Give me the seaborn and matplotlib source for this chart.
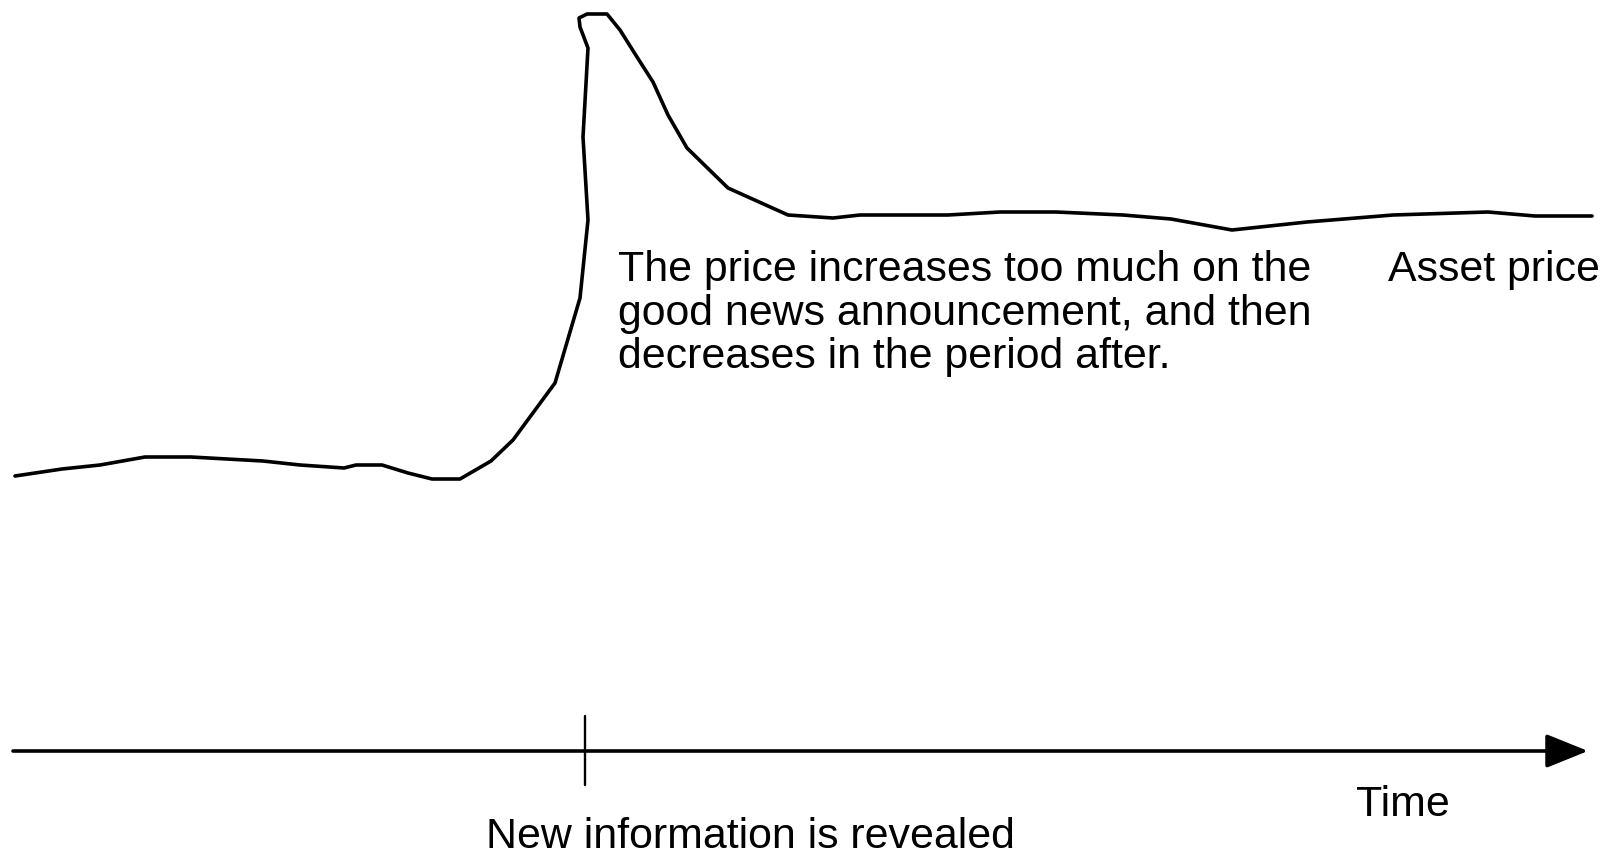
import matplotlib
matplotlib.use("Agg")
import matplotlib.pyplot as plt
import seaborn as sns
import pandas as pd

# Asset price path (time in arbitrary units, price in arbitrary units)
time = [15, 62, 100, 145, 191, 263, 300, 344, 356, 382, 408, 432, 460, 491, 513,
        555, 580, 588, 583, 588, 580, 579, 587, 607, 620, 637, 653, 668, 687, 728,
        788, 833, 860, 948, 1000, 1056, 1123, 1171, 1232, 1307, 1393, 1488, 1535, 1592]
price = [379, 386, 390, 398, 398, 394, 390, 387, 390, 390, 382, 376, 376, 394, 415,
         472, 557, 635, 718, 807, 828, 837, 841, 841, 825, 798, 773, 740, 707, 667,
         640, 637, 640, 640, 643, 643, 640, 636, 625, 633, 640, 643, 639, 639]

event_time = 585
annotation_lines = ["The price increases too much on the",
                    "good news announcement, and then",
                    "decreases in the period after."]
series_label = "Asset price"
axis_label = "Time"
event_label = "New information is revealed"

sns.set_theme(style="white")
plt.rcParams["font.family"] = ["Liberation Sans", "DejaVu Sans"]
plt.rcParams["text.color"] = "black"

fig = plt.figure(figsize=(16.2, 8.55), dpi=100)
ax = fig.add_axes([0, 0, 1, 1])
ax.set_xlim(0, 1620)
ax.set_ylim(0, 855)
ax.axis("off")

df = pd.DataFrame({"time": time, "price": price, "order": range(len(time))})
sns.lineplot(data=df, x="time", y="price", sort=False, estimator=None,
             color="black", linewidth=2.6, ax=ax)

# time axis with arrow
axis_y = 104
ax.annotate("", xy=(1588, axis_y), xytext=(13, axis_y),
            arrowprops=dict(arrowstyle="-|>,head_length=2.6,head_width=1.05",
                            color="black", lw=2.6, shrinkA=0, shrinkB=0,
                            mutation_scale=10))
ax.plot([event_time, event_time], [70, 139], color="black", lw=1.7)

fs = 30.9
y0 = 855 - 281
for i, line in enumerate(annotation_lines):
    ax.text(618, y0 - i * 43.5, line, fontsize=fs, ha="left", va="baseline",
            color="black")
ax.text(1388, y0, series_label, fontsize=fs, ha="left", va="baseline", color="black")
ax.text(1356, 855 - 816, axis_label, fontsize=fs, ha="left", va="baseline", color="black")
ax.text(750, 855 - 848, event_label, fontsize=fs, ha="center", va="baseline", color="black")

fig.savefig("out.png", dpi=100)
